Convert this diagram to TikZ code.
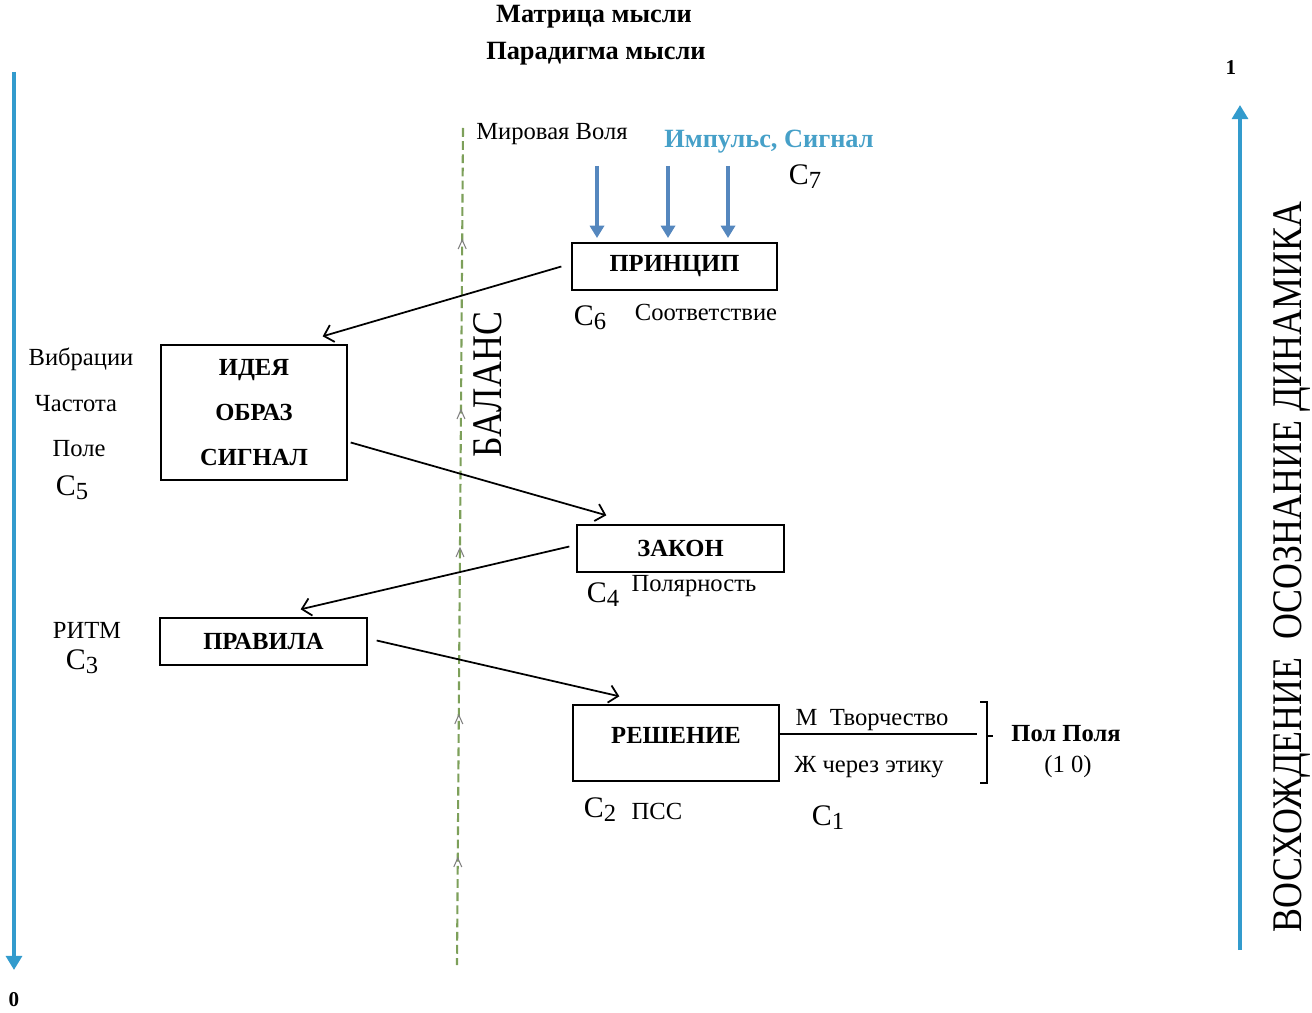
\documentclass[tikz,border=0pt]{standalone}
\usepackage{fontspec}
\usepackage{graphicx}
\setmainfont{Liberation Serif}
\usetikzlibrary{arrows.meta}
\usetikzlibrary{calc}

\definecolor{sideblue}{RGB}{50,155,205}
\definecolor{pulseblue}{RGB}{85,135,190}
\definecolor{pulsetext}{RGB}{70,160,200}
\definecolor{balgreen}{RGB}{125,160,90}

\newcommand{\cidx}[1]{{\fontsize{17}{17}\selectfont C}\raisebox{-0.5ex}{\fontsize{14}{14}\selectfont #1}}

\begin{document}
\begin{tikzpicture}[x=0.02cm,y=-0.02cm,
        box/.style={draw,line width=0.8pt,inner sep=0pt,font=\fontsize{14}{16}\selectfont\bfseries},
        txt/.style={inner sep=0pt,font=\fontsize{14}{16}\selectfont},
        btxt/.style={inner sep=0pt,font=\fontsize{15}{17}\selectfont\bfseries},
        link/.style={line width=1pt,-{Straight Barb[length=5pt,width=10pt]}},
        pulse/.style={pulseblue,line width=1.8pt,-{Triangle[length=7pt,width=8pt]}},
        side/.style={sideblue,line width=2.4pt,-{Triangle[length=8pt,width=9pt]}}]

    \useasboundingbox (0,0) rectangle (1312,1013);

    \node[btxt] (matrix) at (594,17) {Матрица мысли};
    \node[btxt] (paradigm) at (596,54) {Парадигма мысли};

    % axes
    \node[inner sep=0pt,font=\fontsize{12}{12}\selectfont\bfseries] (zero) at (14,1000) {0};
    \node[inner sep=0pt,font=\fontsize{12}{12}\selectfont\bfseries] (one) at (1231,68) {1};
    \coordinate (ltop) at (14,72);
    \coordinate (lbot) at (14,970);
    \coordinate (rbot) at (1240,950);
    \coordinate (rtop) at (1240,105);
    \draw[side] (ltop) -- (lbot);
    \draw[side] (rbot) -- (rtop);
    \node[inner sep=0pt,rotate=90,font=\fontsize{24}{24}\selectfont] (ascent) at (1292,567)
        {\scalebox{0.85}[1]{ВОСХОЖДЕНИЕ\ \ ОСОЗНАНИЕ ДИНАМИКА}};

    % balance line
    \coordinate (btop) at (463,128);
    \coordinate (bbot) at (457,965);
    \draw[balgreen,dashed,line width=1.2pt,dash pattern=on 5pt off 2.5pt] (btop) -- (bbot);
    \foreach \y in {240,410,548,715,858} {
            \draw[gray,line width=0.6pt] ({463-6*(\y-128)/837-4},\y+9) -- ({463-6*(\y-128)/837},\y) -- ({463-6*(\y-128)/837+4},\y+9);
        }
    \node[inner sep=0pt,rotate=90,font=\fontsize{24}{24}\selectfont] (balance) at (488,385)
        {\scalebox{0.85}[1]{БАЛАНС}};

    % boxes
    \node[box,minimum width=4.1cm,minimum height=0.94cm] (principle) at (674.5,266.5) {ПРИНЦИП};
    \node[box,minimum width=3.72cm,minimum height=2.7cm,align=center,font=\fontsize{14}{25.5}\selectfont\bfseries] (idea) at (254,412.5) {ИДЕЯ\\ОБРАЗ\\СИГНАЛ};
    \node[box,minimum width=4.14cm,minimum height=0.94cm] (law) at (680.5,548.5) {ЗАКОН};
    \node[box,minimum width=4.14cm,minimum height=0.94cm] (rules) at (263.5,641.5) {ПРАВИЛА};
    \node[box,minimum width=4.12cm,minimum height=1.52cm,
        label={[inner sep=0pt,yshift=4.5pt,font=\fontsize{14}{16}\selectfont\bfseries]center:РЕШЕНИЕ}] (decision) at (676,743) {};

    % links
    \draw[link] ($(principle.west)+(-10,0)$) -- ($(idea.north east)+(-25,-8)$);
    \draw[link] ($(idea.east)+(3,30)$) -- ($(law.north west)+(30,-9)$);
    \draw[link] ($(law.west)+(-7,-2)$) -- ($(rules.north east)+(-67,-8)$);
    \draw[link] ($(rules.east)+(9,-1)$) -- ($(decision.north west)+(47,-8)$);

    % impulse
    \node[txt] (will) at (552,134) {Мировая Воля};
    \node[btxt,pulsetext] (impulse) at (769,142) {Импульс, Сигнал};
    \foreach \x in {597,668,728} {
            \draw[pulse] (\x,166) -- (\x,238);
        }
    \node[inner sep=0pt] (c7) at (805,177) {\cidx{7}};

    \node[inner sep=0pt] (c6) at (590,318) {\cidx{6}};
    \node[txt] (accord) at (706,312) {Соответствие};

    \node[txt] (vibr) at (81,359) {Вибрации};
    \node[txt] (freq) at (76,404) {Частота};
    \node[txt] (field) at (79,449) {Поле};
    \node[inner sep=0pt] (c5) at (72,488) {\cidx{5}};

    \node[inner sep=0pt] (c4) at (603,595) {\cidx{4}};
    \node[txt] (polar) at (694,586) {Полярность};

    \node[txt] (rhythm) at (87,630) {РИТМ};
    \node[inner sep=0pt] (c3) at (82,662) {\cidx{3}};

    % sex of the field
    \coordinate (barend) at (977,734);
    \draw[line width=0.8pt] ($(decision.east)+(0,-9)$) -- (barend);
    \node[txt] (creat) at (872,720) {М\ \ Творчество};
    \node[txt] (ethic) at (869,767) {Ж через этику};
    \draw[line width=0.8pt] (980,702) -| (987,783) -- (980,783);
    \draw[line width=0.8pt] (987,736) -- (993,736);
    \node[btxt,font=\fontsize{14}{16}\selectfont\bfseries] (sexfield) at (1066,734) {Пол Поля};
    \node[txt] (onezero) at (1068,767) {(1 0)};

    \node[inner sep=0pt] (c2) at (600,810) {\cidx{2}};
    \node[txt] (pss) at (657,811) {ПСС};
    \node[inner sep=0pt] (c1) at (828,818) {\cidx{1}};
\end{tikzpicture}
\end{document}
